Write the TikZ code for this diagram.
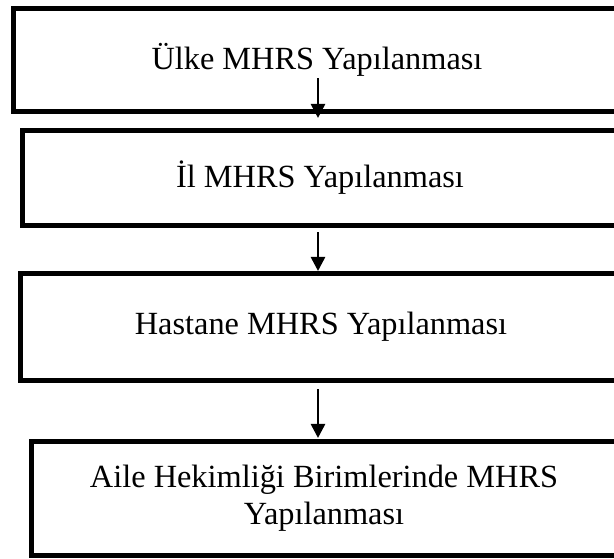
\documentclass[tikz,border=0pt]{standalone}
\usepackage{fontspec}
\setmainfont{Liberation Serif}
\usetikzlibrary{positioning, arrows.meta}

\begin{document}
\begin{tikzpicture}[
        x=0.025cm, y=-0.025cm,
        level/.style={draw, rectangle, line width=0.125cm, outer sep=0pt, inner sep=0pt, align=center, font=\fontsize{23}{26.5}\selectfont},
        flow/.style={line width=0.065cm, -{Triangle[length=0.35cm, width=0.35cm]}}
    ]
    \useasboundingbox (0,0) rectangle (614,559);
    \clip (0,0) rectangle (614,559);

    % Ülke
    \node[level, minimum width=15.15cm, minimum height=2.55cm] (ulke) at (317,60) {Ülke MHRS Yapılanması};

    % İl
    \node[level, minimum width=14.875cm, minimum height=2.35cm] (il) at (320,178) {İl MHRS Yapılanması};

    % Hastane
    \node[level, minimum width=15cm, minimum height=2.65cm] (hastane) at (321,327) {Hastane MHRS Yapılanması};

    % Aile hekimliği
    \node[level, minimum width=14.6cm, minimum height=2.825cm] (aile) at (324,498.5) {Aile Hekimliği Birimlerinde MHRS\\Yapılanması};

    % Oklar
    \coordinate (axis) at (318,0);
    \draw[flow] ([yshift=0.825cm]ulke.south -| axis) -- ([yshift=0.325cm]il.north -| axis);
    \draw[flow] ([yshift=-0.175cm]il.south -| axis) -- ([yshift=0.075cm]hastane.north -| axis);
    \draw[flow] ([yshift=-0.225cm]hastane.south -| axis) -- ([yshift=0.1cm]aile.north -| axis);
\end{tikzpicture}
\end{document}
